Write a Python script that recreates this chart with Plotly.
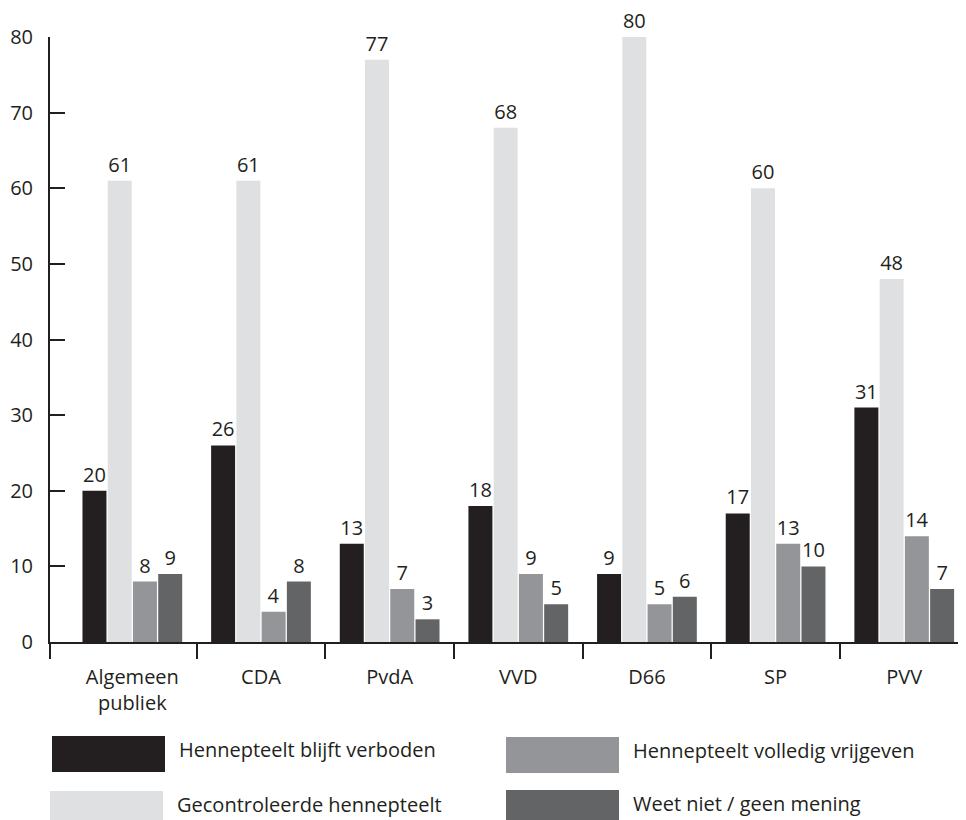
import plotly.graph_objects as go

categories = ["Algemeen<br>publiek", "CDA", "PvdA", "VVD", "D66", "SP", "PVV"]
series_names = [
    "Hennepteelt blijft verboden",
    "Gecontroleerde hennepteelt",
    "Hennepteelt volledig vrijgeven",
    "Weet niet / geen mening",
]
verboden = [20, 26, 13, 18, 9, 17, 31]
gecontroleerd = [61, 61, 77, 68, 80, 60, 48]
vrijgeven = [8, 4, 7, 9, 5, 13, 14]
weet_niet = [9, 8, 3, 5, 6, 10, 7]
y_ticks = [0, 10, 20, 30, 40, 50, 60, 70, 80]

colors = ["#231f20", "#dfe0e1", "#939598", "#636466"]
FONT = "Open Sans"
FS = 20
TXT = "#231f20"

# page body has an 8px margin; compensate so the figure spans the 966x820 window
OFF = 8
W, H = 966 - OFF, 820 - OFF
L, T = 50 - OFF, 37 - OFF
B = H - (642 - OFF)

xs = list(range(len(categories)))
fig = go.Figure()
for name, vals, col in zip(series_names, [verboden, gecontroleerd, vrijgeven, weet_niet], colors):
    fig.add_trace(go.Bar(
        x=xs, y=vals, name=name, marker_color=col, marker_line_width=0,
        text=[str(v) for v in vals], textposition="outside",
        textfont=dict(family=FONT, size=FS, color=TXT),
        cliponaxis=False, showlegend=False,
    ))

fig.update_layout(
    width=W, height=H,
    margin=dict(l=L, r=0, t=T, b=B, pad=0),
    paper_bgcolor="white", plot_bgcolor="white",
    barmode="group", bargap=0.215, bargroupgap=0.05,
    font=dict(family=FONT, size=FS, color=TXT),
)
fig.update_xaxes(
    range=[-0.64, 6.48], tickmode="array", tickvals=xs, ticktext=categories,
    ticks="", showgrid=False, zeroline=False,
    showline=True, linecolor=TXT, linewidth=2,
    tickfont=dict(family=FONT, size=FS, color=TXT),
    ticklabelstandoff=16,
    minor=dict(tickmode="array", tickvals=[-0.64] + [i + 0.5 for i in xs[:-1]],
               ticks="outside", ticklen=15, tickwidth=2, tickcolor=TXT, showgrid=False),
)
fig.update_yaxes(
    range=[0, 80], tickmode="array", tickvals=y_ticks,
    ticks="inside", ticklen=15, tickwidth=2, tickcolor=TXT,
    showgrid=False, zeroline=False,
    showline=True, linecolor=TXT, linewidth=2,
    tickfont=dict(family=FONT, size=FS, color=TXT),
    ticklabelstandoff=11,
)

# Legend drawn as swatches + text (bottom, 2x2), positions in window pixels
plot_h = H - T - B
plot_w = W - L
def px_x(p):
    return (p - OFF - L) / plot_w
def px_y(p):
    return (642 - p) / plot_h

legend_pos = [(52, 736), (50, 791), (506, 737), (506, 790)]
for name, col, (lx, ly) in zip(series_names, colors, legend_pos):
    fig.add_shape(type="rect", xref="paper", yref="paper",
                  x0=px_x(lx), x1=px_x(lx + 113), y0=px_y(ly), y1=px_y(ly + 36),
                  fillcolor=col, line_width=0)
    fig.add_annotation(xref="paper", yref="paper", x=px_x(lx + 125), y=px_y(ly + 13),
                       text=name, showarrow=False, xanchor="left", yanchor="middle",
                       font=dict(family=FONT, size=FS, color=TXT))

fig.write_html("out.html")
